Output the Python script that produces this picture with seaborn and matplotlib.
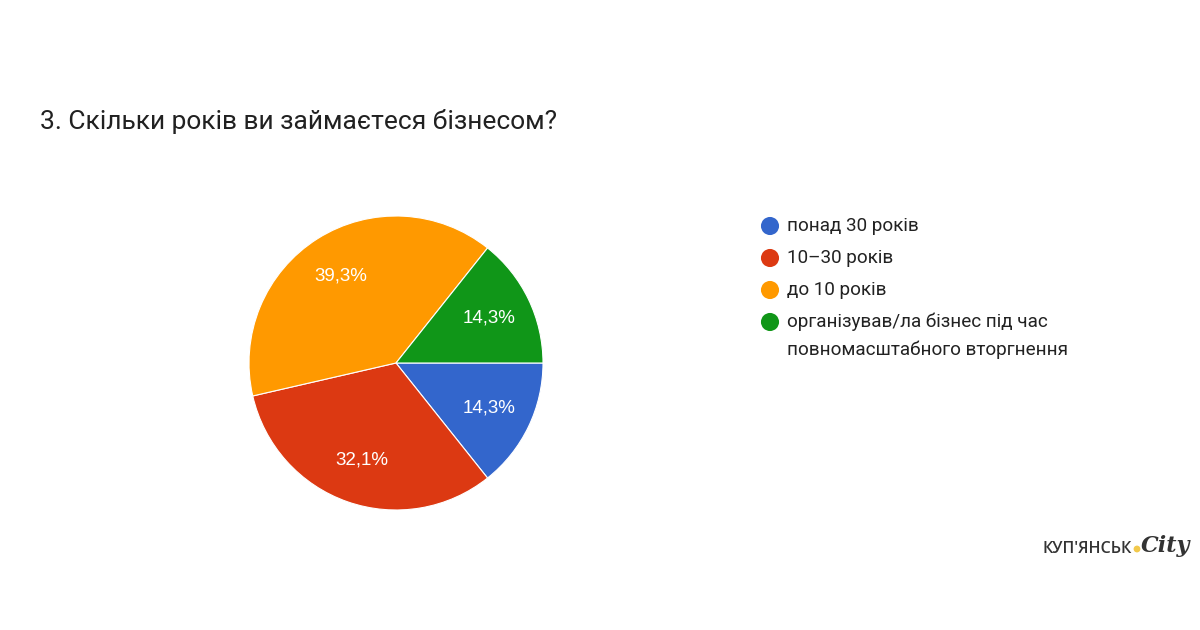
import matplotlib
matplotlib.use("Agg")
import matplotlib.pyplot as plt
import seaborn as sns

sns.set_theme(style="white")
plt.rcParams['font.family'] = ['Roboto', 'DejaVu Sans']

title = "3. Скільки років ви займаєтеся бізнесом?"
categories = ["понад 30 років", "10–30 років", "до 10 років",
              "організував/ла бізнес під час\nповномасштабного вторгнення"]
values = [14.3, 32.1, 39.3, 14.3]
colors = ["#3366CC", "#DC3912", "#FF9900", "#109618"]

fig = plt.figure(figsize=(12, 6.3), dpi=100)
fig.patch.set_facecolor("white")

# pie axes: centre (396,363) px, radius 147 px
W, H = 1200, 630
cx, cy, r = 396, 363, 147
ax = fig.add_axes([(cx - r) / W, (H - cy - r) / H, 2 * r / W, 2 * r / H])
wedges, texts, autotexts = ax.pie(
    values, colors=colors, startangle=0, counterclock=False,
    autopct=lambda p: f"{p:.1f}".replace(".", ",") + "%", pctdistance=0.70,
    wedgeprops=dict(edgecolor="white", linewidth=0.8),
    textprops=dict(color="white", fontsize=13.5, family=["Liberation Sans", "DejaVu Sans"]))
ax.set_xlim(-1.0, 1.0)
ax.set_ylim(-1.0, 1.0)
ax.set_aspect("equal")
ax.axis("off")

# overlay axes in pixel coordinates for title, legend and logo
ov = fig.add_axes([0, 0, 1, 1], zorder=-1)
ov.set_xlim(0, W)
ov.set_ylim(H, 0)
ov.axis("off")

ov.text(40, 122, title, fontsize=19, color="#212121", va="center", ha="left")

leg_y = [226, 258, 290, 322]
for y, lab, c in zip(leg_y, categories, colors):
    ov.scatter([770], [y], s=170, color=c, edgecolors="none")
    lines = lab.split("\n")
    for i, ln in enumerate(lines):
        ov.text(787, y + 28 * i, ln, fontsize=13.6, color="#222222",
                va="center", ha="left")

# logo
ov.text(1132, 549, "КУП'ЯНСЬК", fontsize=11.5, color="#333333", va="center", ha="right",
        family=["Open Sans", "DejaVu Sans"], weight="semibold")
ov.scatter([1137], [549], s=24, color="#F2C94C", edgecolors="none")
ov.text(1141, 546, "City", fontsize=16, color="#333333", va="center", ha="left",
        family=["DejaVu Serif"], style="italic", weight="bold")

fig.savefig("out.png", dpi=100, facecolor="white")
